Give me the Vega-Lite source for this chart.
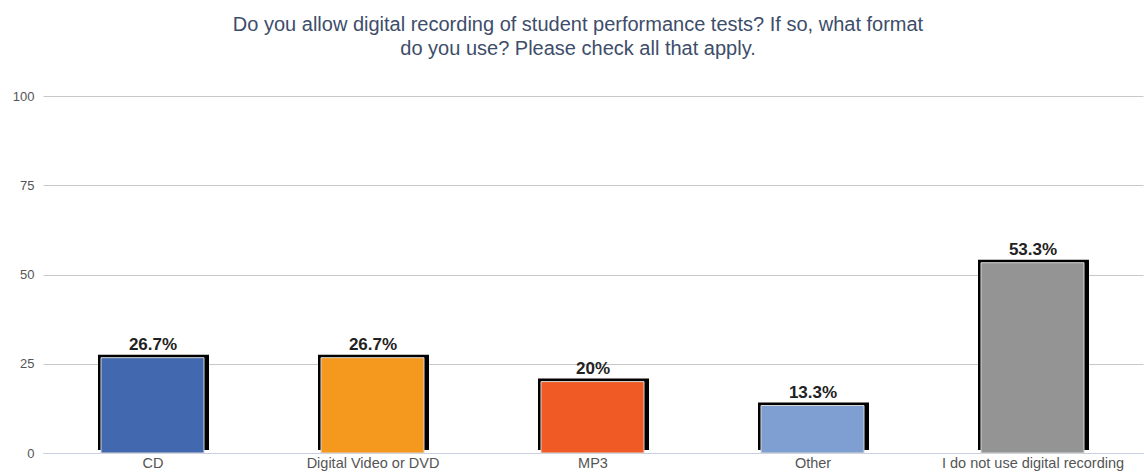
{
  "$schema": "https://vega.github.io/schema/vega-lite/v6.json",
  "autosize": "none",
  "width": 1100,
  "height": 357,
  "padding": {"left": 43, "top": 96, "right": 1, "bottom": 20},
  "background": "white",
  "title": {
    "text": ["Do you allow digital recording of student performance tests? If so, what format", "do you use? Please check all that apply."],
    "font": "Liberation Sans",
    "fontSize": 20,
    "fontWeight": "normal",
    "color": "#3d4d6a",
    "lineHeight": 24,
    "anchor": "middle",
    "frame": "group",
    "dx": -15,
    "offset": 31
  },
  "data": {
    "values": [
      {"format": "CD", "value": 26.7, "label": "26.7%", "color": "#4269b0"},
      {"format": "Digital Video or DVD", "value": 26.7, "label": "26.7%", "color": "#f4991e"},
      {"format": "MP3", "value": 20, "label": "20%", "color": "#f05a24"},
      {"format": "Other", "value": 13.3, "label": "13.3%", "color": "#7f9fd2"},
      {"format": "I do not use digital recording", "value": 53.3, "label": "53.3%", "color": "#949494"}
    ]
  },
  "config": {
    "view": {"stroke": null},
    "font": "Liberation Sans"
  },
  "encoding": {
    "x": {
      "field": "format",
      "type": "nominal",
      "sort": null,
      "scale": {"paddingInner": 0.5, "paddingOuter": 0.25},
      "axis": {
        "title": null,
        "labelAngle": 0,
        "labelColor": "#555555",
        "labelFont": "Liberation Sans",
        "labelFontSize": 14.5,
        "labelPadding": 3,
        "labelLimit": 400,
        "labelOverlap": false,
        "ticks": false,
        "domainColor": "#c9d0e0",
        "domainWidth": 1,
        "grid": false
      }
    },
    "y": {
      "field": "value",
      "type": "quantitative",
      "scale": {"domain": [0, 100], "nice": false},
      "axis": {
        "title": null,
        "values": [0, 25, 50, 75, 100],
        "labelColor": "#555555",
        "labelFont": "Liberation Sans",
        "labelFontSize": 13,
        "labelPadding": 9,
        "ticks": false,
        "domain": false,
        "gridColor": "#c8c8c8",
        "gridWidth": 1
      }
    }
  },
  "layer": [
    {
      "mark": {"type": "bar", "color": "black", "size": 111, "xOffset": 0.5, "yOffset": -3, "y2Offset": -1},
      "encoding": {}
    },
    {
      "mark": {"type": "bar", "size": 103, "xOffset": -0.5, "stroke": "#d8d8d8", "strokeWidth": 1, "y2Offset": -2},
      "encoding": {
        "color": {"field": "color", "type": "nominal", "scale": null}
      }
    },
    {
      "mark": {"type": "text", "fontWeight": "bold", "fontSize": 17, "color": "#222222", "baseline": "alphabetic", "dy": -8, "font": "Liberation Sans"},
      "encoding": {
        "text": {"field": "label"}
      }
    }
  ]
}
